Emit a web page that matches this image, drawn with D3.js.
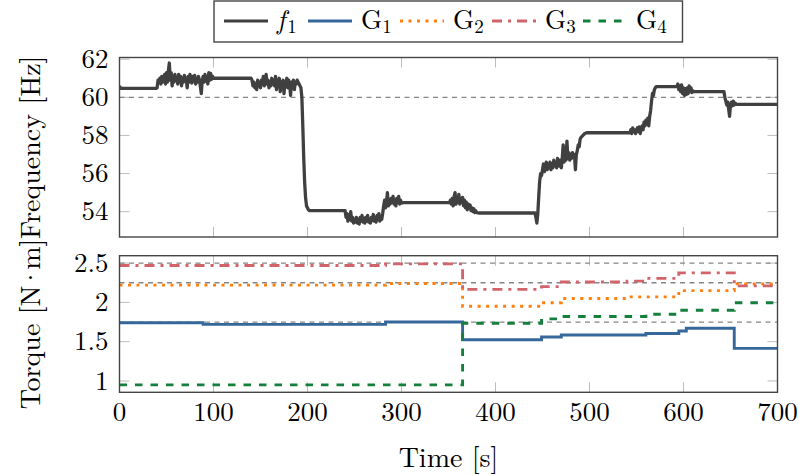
<!DOCTYPE html>
<html><head><meta charset="utf-8">
<script src="https://cdn.jsdelivr.net/npm/d3@7"></script>
<style>
body{margin:0;background:#fff}
svg{display:block}
</style>
</head><body>
<svg id="c" width="799" height="475"></svg>
<script>
// ---------------- DATA ----------------
const timeTicks = [0,100,200,300,400,500,600,700];
const freqTicks = [54,56,58,60,62];
const torqueTicks = [1,1.5,2,2.5];
const freqRef = [60];
const torqueRef = [1.75,2.25,2.5];

// frequency f1 [time s, Hz]
const f1 = [
[0,60.6],[1,60.47],[39,60.47],
[40,60.5],[41,60.9],[42,60.8],[43,61.0],[44,60.7],[45,61.1],[46,60.8],[47,60.95],[48,61.2],[49,60.7],
[50,61.3],[51,60.8],[52,61.4],[53,61.8],[54,60.9],[55,61.3],[56,60.6],[57,61.1],[58,60.8],[59,61.2],
[60,60.9],[61,61.05],[62,60.7],[63,61.2],[64,60.9],[65,61.1],[66,60.6],[67,61.0],[68,60.8],[69,61.15],
[70,60.9],[71,61.0],[72,60.5],[73,61.1],[74,60.8],[75,61.2],[76,60.9],[77,60.75],[78,61.1],[79,60.85],
[80,61.15],[81,60.7],[82,61.0],[83,60.8],[84,61.1],[85,60.9],[86,60.6],[87,60.2],[88,60.9],[89,61.1],
[90,60.8],[91,61.2],[92,60.85],[93,61.0],[94,60.7],[95,61.3],[96,60.9],[97,61.25],[98,60.95],[99,61.1],
[100,61.0],[101,61.0],[140,61.0],
[141,60.9],[142,60.6],[143,60.8],[144,60.5],[145,60.7],[146,60.4],[147,60.9],[148,60.6],[149,60.8],
[150,60.5],[151,60.9],[152,60.7],[153,61.1],[154,60.6],[155,60.8],[156,61.2],[157,60.7],[158,60.9],[159,60.5],
[160,60.8],[161,60.6],[162,61.0],[163,60.7],[164,60.9],[165,60.6],[166,61.1],[167,60.4],[168,60.9],[169,60.7],
[170,61.0],[171,60.3],[172,60.8],[173,60.6],[174,60.9],[175,60.2],[176,60.8],[177,60.7],[178,61.0],[179,60.5],
[180,60.9],[181,60.7],[182,60.1],[183,60.8],[184,60.6],[185,60.9],[186,60.4],[187,60.8],[188,60.7],[189,60.9],
[190,60.8],[191,60.7],[192,60.6],[193,60.5],
[194,60.0],[195,58.5],[196,56.8],[197,55.5],[198,54.7],[199,54.3],[201,54.1],[202,54.05],[240,54.05],
[241,53.7],[242,53.9],[243,53.5],[244,53.8],[245,53.6],[246,54.0],[247,53.5],[248,53.7],[249,53.4],
[250,53.6],[251,53.45],[252,53.7],[253,53.4],[254,53.6],[255,53.35],[256,53.7],[257,53.5],[258,53.8],[259,53.45],
[260,53.65],[261,53.4],[262,53.7],[263,53.5],[264,53.8],[265,53.45],[266,53.6],[267,53.4],[268,53.7],[269,53.55],
[270,53.85],[271,53.5],[272,53.7],[273,53.45],[274,53.8],[275,53.6],[276,53.9],[277,53.5],[278,53.7],[279,53.6],
[280,53.9],
[281,54.3],[282,54.6],[283,54.2],[284,54.5],[285,55.0],[286,54.3],[287,54.6],[288,54.4],[289,54.7],
[290,54.5],[291,54.8],[292,54.4],[293,54.6],[294,54.3],[295,54.7],[296,54.5],[297,54.8],[298,54.4],[299,54.6],
[300,54.45],[302,54.47],[351,54.47],
[352,54.6],[353,54.4],[354,54.7],[355,54.3],[356,54.8],[357,55.0],[358,54.4],[359,54.6],
[360,54.5],[361,54.9],[362,54.4],[363,54.7],[364,54.5],[365,54.75],[366,54.3],[367,54.6],[368,54.2],[369,54.5],
[370,54.1],[371,54.4],[372,54.2],[373,54.35],[374,54.05],[375,54.2],[376,54.0],[377,54.15],[378,53.95],[379,54.05],
[380,53.95],[382,53.93],[442,53.93],
[443,53.7],[444,53.4],[445,53.9],[446,54.8],[447,55.6],[448,56.0],[449,55.9],
[450,56.2],[451,56.5],[452,56.1],[453,56.4],[454,56.6],[455,56.2],[456,56.5],[457,56.3],[458,56.6],[459,56.2],
[460,56.5],[461,56.3],[462,56.7],[463,56.4],[464,56.6],[465,56.3],[466,56.8],[467,56.5],[468,56.4],[469,56.7],
[470,56.3],[471,56.8],[472,57.5],[473,56.6],[474,57.0],[475,56.7],[476,57.7],[477,56.8],[478,57.1],[479,56.7],
[480,57.0],[481,56.8],[482,57.1],[483,56.9],[484,57.0],[485,56.2],[486,57.0],[487,57.2],
[488,57.5],[489,57.4],[490,57.8],[491,57.9],[493,58.0],[495,58.1],[497,58.14],[543,58.14],
[544,58.3],[545,58.1],[546,58.4],[547,58.2],[548,58.3],[549,58.1],
[550,58.25],[551,58.4],[552,58.2],[553,58.45],[554,58.1],[555,58.35],[556,58.5],[557,58.3],[558,58.7],[559,58.5],
[560,58.8],[561,58.6],[562,58.9],[563,58.5],[564,59.0],[565,59.3],
[566,59.8],[567,60.2],[568,60.1],[569,60.4],[570,60.5],[571,60.56],[593,60.56],
[594,60.7],[595,60.4],[596,60.6],[597,60.3],[598,60.65],[599,60.2],
[600,60.5],[601,60.1],[602,60.45],[603,60.15],[604,60.5],[605,60.2],[606,60.6],[607,60.3],[608,60.5],[609,60.25],
[610,60.35],[611,60.3],[643,60.3],
[644,60.0],[645,59.8],[646,59.6],[647,59.75],[648,59.4],[649,59.0],
[650,59.6],[651,59.75],[652,59.55],[653,59.8],[654,59.6],[655,59.7],[656,59.63],[700,59.63]
];

// torques: step changes at these times [s]
const stepTimes = [0, 89, 283, 365, 449, 470, 540, 560, 595, 603, 654, 700];
const G1 = [1.74, 1.72, 1.75, 1.525, 1.56, 1.585, 1.585, 1.605, 1.635, 1.67, 1.415, 1.415];
const G2 = [2.22, 2.22, 2.24, 1.95, 1.995, 2.05, 2.07, 2.07, 2.15, 2.15, 2.235, 2.235];
const G3 = [2.47, 2.47, 2.49, 2.165, 2.2, 2.26, 2.27, 2.305, 2.376, 2.376, 2.21, 2.21];
const G4 = [0.95, 0.95, 0.95, 1.735, 1.79, 1.82, 1.82, 1.85, 1.90, 1.90, 1.995, 1.995];

const seriesNames = ["G1","G2","G3","G4"];

// ---------------- STYLE ----------------
const FONT = "'Latin Modern Roman', 'Liberation Serif', serif";
const styles = {
  f1: {color:"#404040", dash:null},
  G1: {color:"#36679b", dash:null},
  G2: {color:"#ff7f0e", dash:"3 5.5"},
  G3: {color:"#d1646a", dash:"10 6 3 6"},
  G4: {color:"#15803c", dash:"7.5 8"}
};

const svg = d3.select("#c");
const xL = 119.5, xR = 777.5;
const p1 = {top:57.5, bottom:237};
const p2 = {top:255.7, bottom:392.3};

const x = d3.scaleLinear().domain([0,700]).range([xL,xR]);
const y1 = d3.scaleLinear().domain([52.67,62.09]).range([p1.bottom,p1.top]);
const y2 = d3.scaleLinear().domain([0.856,2.594]).range([p2.bottom,p2.top]);

const tickCol = "#bcbcbc", frameCol = "#454545", tickLen = 10;
const TICKFS = 27;

function txt(sel){ return sel.style("font-family",FONT).attr("fill","#000"); }

function panel(p, y, yTicks, refs, fmt){
  const g = svg.append("g");
  const xt = g.append("g").selectAll("g").data(timeTicks).join("g");
  xt.append("line").attr("x1",d=>x(d)).attr("x2",d=>x(d)).attr("y1",p.bottom).attr("y2",p.bottom-tickLen)
    .attr("stroke",tickCol).attr("stroke-width",1);
  xt.append("line").attr("x1",d=>x(d)).attr("x2",d=>x(d)).attr("y1",p.top).attr("y2",p.top+tickLen)
    .attr("stroke",tickCol).attr("stroke-width",1);
  const yt = g.append("g").selectAll("g").data(yTicks).join("g");
  yt.append("line").attr("x1",xL).attr("x2",xL+tickLen).attr("y1",d=>y(d)).attr("y2",d=>y(d))
    .attr("stroke",tickCol).attr("stroke-width",1);
  yt.append("line").attr("x1",xR).attr("x2",xR-tickLen).attr("y1",d=>y(d)).attr("y2",d=>y(d))
    .attr("stroke",tickCol).attr("stroke-width",1);
  txt(yt.append("text")).attr("x",xL-11).attr("y",d=>y(d)).attr("dy","0.32em")
    .attr("text-anchor","end").attr("font-size",TICKFS).text(fmt);
  g.append("g").selectAll("line").data(refs).join("line")
    .attr("x1",xL).attr("x2",xR).attr("y1",d=>y(d)).attr("y2",d=>y(d))
    .attr("stroke","#858585").attr("stroke-width",1.3).attr("stroke-dasharray","5 4.5");
  return g;
}

const g1 = panel(p1, y1, freqTicks, freqRef, d=>d);
const g2 = panel(p2, y2, torqueTicks, torqueRef, d=>d3.format("~g")(d));

const defs = svg.append("defs");
defs.append("clipPath").attr("id","cp1").append("rect").attr("x",xL).attr("y",p1.top).attr("width",xR-xL).attr("height",p1.bottom-p1.top);
defs.append("clipPath").attr("id","cp2").append("rect").attr("x",xL).attr("y",p2.top).attr("width",xR-xL).attr("height",p2.bottom-p2.top);

const lineF = d3.line().x(d=>x(d[0])).y(d=>y1(d[1])).curve(d3.curveLinear);
g1.append("path").datum(f1).attr("clip-path","url(#cp1)")
  .attr("d",lineF).attr("fill","none").attr("stroke",styles.f1.color)
  .attr("stroke-width",3.3).attr("stroke-linejoin","round");

const torque = {G1, G2, G3, G4};
const lineT = d3.line().x(d=>x(d[0])).y(d=>y2(d[1])).curve(d3.curveStepAfter);
seriesNames.forEach(n=>{
  const pts = stepTimes.map((t,i)=>[t, torque[n][i]]);
  g2.append("path").datum(pts).attr("clip-path","url(#cp2)")
    .attr("d",lineT).attr("fill","none").attr("stroke",styles[n].color)
    .attr("stroke-width",2.9).attr("stroke-dasharray",styles[n].dash);
});

[p1,p2].forEach(p=>{
  svg.append("rect").attr("x",xL).attr("y",p.top).attr("width",xR-xL).attr("height",p.bottom-p.top)
    .attr("fill","none").attr("stroke",frameCol).attr("stroke-width",1.4);
});

txt(svg.append("g").selectAll("text").data(timeTicks).join("text"))
  .attr("x",d=>x(d)).attr("y",421).attr("text-anchor","middle").attr("font-size",TICKFS).text(d=>d);

txt(svg.append("text")).attr("x",(xL+xR)/2).attr("y",467).attr("text-anchor","middle")
  .attr("font-size",28).text("Time [s]");
txt(svg.append("text")).attr("transform",`translate(40,${(p1.top+p1.bottom)/2}) rotate(-90)`)
  .attr("text-anchor","middle").attr("font-size",28).text("Frequency [Hz]");
const tq = txt(svg.append("text")).attr("transform",`translate(40,${(p2.top+p2.bottom)/2}) rotate(-90)`)
  .attr("text-anchor","middle").attr("font-size",28);
tq.append("tspan").text("Torque [N");
tq.append("tspan").attr("dx",-3).text("·");
tq.append("tspan").attr("dx",-3).text("m]");

const leg = svg.append("g");
leg.append("rect").attr("x",214).attr("y",1).attr("width",468.5).attr("height",41)
  .attr("fill","#fff").attr("stroke",frameCol).attr("stroke-width",1.4);
const legItems = [
  {key:"f1", main:"f", sub:"1", italic:true, x0:224},
  {key:"G1", main:"G", sub:"1", italic:false, x0:308},
  {key:"G2", main:"G", sub:"2", italic:false, x0:400},
  {key:"G3", main:"G", sub:"3", italic:false, x0:492},
  {key:"G4", main:"G", sub:"4", italic:false, x0:583}
];
legItems.forEach(it=>{
  leg.append("line").attr("x1",it.x0).attr("x2",it.x0+44).attr("y1",21).attr("y2",21)
    .attr("stroke",styles[it.key].color).attr("stroke-width",2.9)
    .attr("stroke-dasharray",styles[it.key].dash);
  const t = txt(leg.append("text")).attr("x",it.x0+53).attr("y",29).attr("font-size",27);
  t.append("tspan").attr("font-style",it.italic?"italic":"normal").text(it.main);
  t.append("tspan").attr("font-size",19).attr("dy",4).attr("dx",it.italic?2:0).text(it.sub);
});
</script>
</body></html>
